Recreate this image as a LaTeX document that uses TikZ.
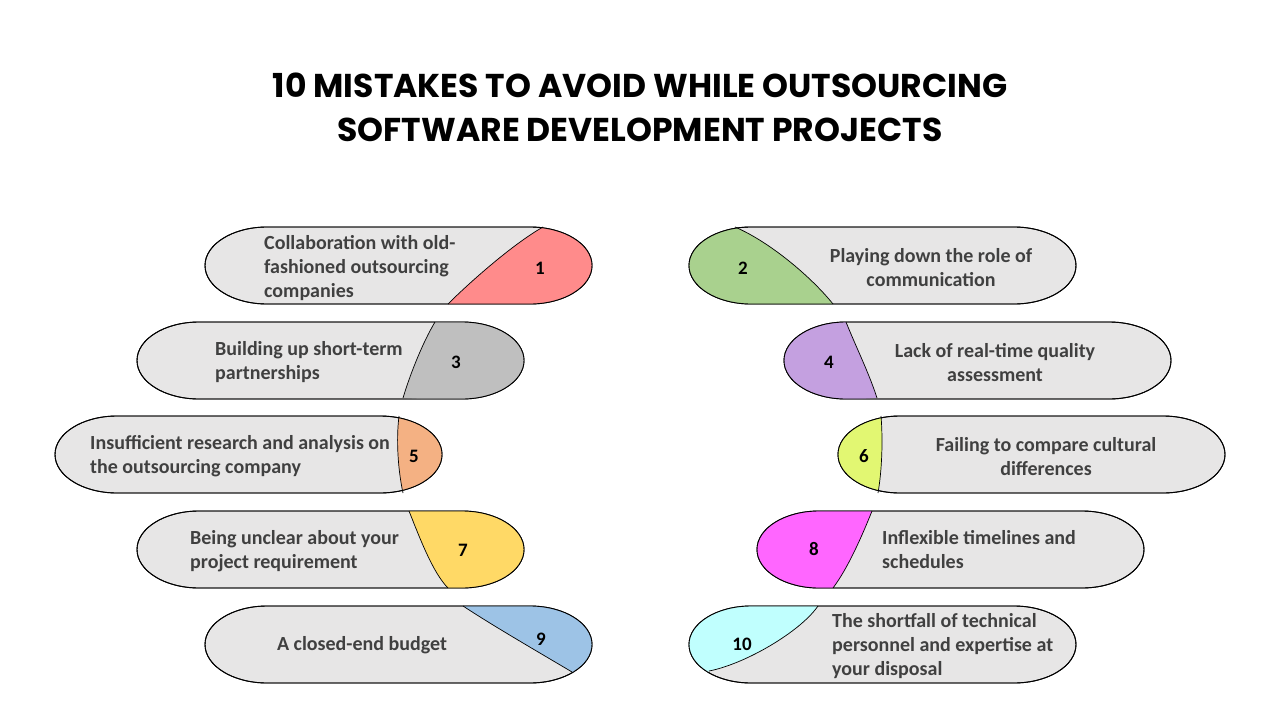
\documentclass[tikz,border=0pt]{standalone}
\usepackage{fontspec}
\setmainfont{Carlito}
\newfontfamily\titlefont{Poppins}
\usetikzlibrary{positioning}
\definecolor{pillgray}{HTML}{E7E6E6}
\definecolor{textgray}{HTML}{404040}
\definecolor{cone}{HTML}{FF8B8B}
\definecolor{ctwo}{HTML}{A9D18E}
\definecolor{cthree}{HTML}{BFBFBF}
\definecolor{cfour}{HTML}{C4A0E0}
\definecolor{cfive}{HTML}{F4B183}
\definecolor{csix}{HTML}{E2F772}
\definecolor{cseven}{HTML}{FFD966}
\definecolor{ceight}{HTML}{FF66FF}
\definecolor{cnine}{HTML}{9DC3E6}
\definecolor{cten}{HTML}{C0FFFE}

\begin{document}
\begin{tikzpicture}[x=1pt,y=-1pt,
  pill/.style={insert path={++(62,0) -- ++(263,0) arc[start angle=-90,end angle=90,x radius=62,y radius=38.5] -- ++(-263,0) arc[start angle=90,end angle=270,x radius=62,y radius=38.5] -- cycle}},
  pillbody/.style={fill=pillgray,draw=black,line width=0.9pt},
  rim/.style={draw=black,line width=0.9pt},
  cut/.style={draw=black,line width=0.7pt},
  label/.style={inner sep=0pt,text=textgray,font=\bfseries\fontsize{20}{24}\selectfont},
  num/.style={inner sep=0pt,text=black,font=\bfseries\fontsize{19}{22}\selectfont},
  heading/.style={inner sep=0pt,anchor=base,font=\titlefont\bfseries\fontsize{33}{44}\selectfont}]
\fill[white] (0,0) rectangle (1280,720);
\useasboundingbox (0,0) rectangle (1280,720);

\node(title1)[heading] at (640,97) {10 MISTAKES TO AVOID WHILE OUTSOURCING};
\node(title2)[heading] at (640,141) {SOFTWARE DEVELOPMENT PROJECTS};

% left column
\path[pillbody] (205,227) [pill];
\begin{scope} \clip (205,227) [pill];
\fill[cone] (543,227) .. controls (513,244) and (470,282) .. (448,304) -- (600,310) -- (600,220) -- cycle;
\end{scope}
\path[cut] (543,227) .. controls (513,244) and (470,282) .. (448,304);
\path[rim] (205,227) [pill];
\node(m1)[label,anchor=west,align=left] at (264,268) {Collaboration with old-\\fashioned outsourcing\\companies};
\node(n1)[num] at (540,268) {1};

\path[pillbody] (137,322) [pill];
\begin{scope} \clip (137,322) [pill];
\fill[cthree] (435,322) .. controls (423,342) and (410.5,373) .. (403,398) -- (530,405) -- (530,315) -- cycle;
\end{scope}
\path[cut] (435,322) .. controls (423,342) and (410.5,373) .. (403,398);
\path[rim] (137,322) [pill];
\node(m3)[label,anchor=west,align=left] at (215,362.5) {Building up short-term\\partnerships};
\node(n3)[num] at (456,362) {3};

\path[pillbody] (55,416) [pill];
\begin{scope} \clip (55,416) [pill];
\fill[cfive] (399,416) .. controls (396,440) and (398,470) .. (403,493) -- (450,500) -- (450,410) -- cycle;
\end{scope}
\path[cut] (399,416) .. controls (396,440) and (398,470) .. (403,493);
\path[rim] (55,416) [pill];
\node(m5)[label,anchor=west,align=left] at (90,456.5) {Insufficient research and analysis on\\the outsourcing company};
\node(n5)[num] at (414,456) {5};

\path[pillbody] (137,511) [pill];
\begin{scope} \clip (137,511) [pill];
\fill[cseven] (409,511) .. controls (419,536) and (432.6,572.6) .. (448,588) -- (530,595) -- (530,505) -- cycle;
\end{scope}
\path[cut] (409,511) .. controls (419,536) and (432.6,572.6) .. (448,588);
\path[rim] (137,511) [pill];
\node(m7)[label,anchor=west,align=left] at (190,551.5) {Being unclear about your\\project requirement};
\node(n7)[num] at (463,550) {7};

\path[pillbody] (205,606) [pill];
\begin{scope} \clip (205,606) [pill];
\fill[cnine] (463,606) .. controls (495,627) and (535,650) .. (572,672) -- (600,690) -- (600,600) -- cycle;
\end{scope}
\path[cut] (463,606) .. controls (495,627) and (535,650) .. (572,672);
\path[rim] (205,606) [pill];
\node(m9)[label] at (362,645) {A closed-end budget};
\node(n9)[num] at (541,639) {9};

% right column
\path[pillbody] (689,227) [pill];
\begin{scope} \clip (689,227) [pill];
\fill[ctwo] (735,227) .. controls (772,243) and (813,279) .. (833,304) -- (680,310) -- (680,220) -- cycle;
\end{scope}
\path[cut] (735,227) .. controls (772,243) and (813,279) .. (833,304);
\path[rim] (689,227) [pill];
\node(m2)[label,align=center] at (931,268) {Playing down the role of\\communication};
\node(n2)[num] at (743,268) {2};

\path[pillbody] (784,322) [pill];
\begin{scope} \clip (784,322) [pill];
\fill[cfour] (846,322) .. controls (856,347) and (869,373) .. (877,398) -- (775,405) -- (775,315) -- cycle;
\end{scope}
\path[cut] (846,322) .. controls (856,347) and (869,373) .. (877,398);
\path[rim] (784,322) [pill];
\node(m4)[label,align=center] at (995,362.5) {Lack of real-time quality\\assessment};
\node(n4)[num] at (829,362) {4};

\path[pillbody] (838,416) [pill];
\begin{scope} \clip (838,416) [pill];
\fill[csix] (881,416) .. controls (883,440) and (882,470) .. (878,493) -- (830,500) -- (830,410) -- cycle;
\end{scope}
\path[cut] (881,416) .. controls (883,440) and (882,470) .. (878,493);
\path[rim] (838,416) [pill];
\node(m6)[label,align=center] at (1046,456.5) {Failing to compare cultural\\differences};
\node(n6)[num] at (864,456) {6};

\path[pillbody] (757,511) [pill];
\begin{scope} \clip (757,511) [pill];
\fill[ceight] (872,511) .. controls (862,536) and (848,568) .. (833,588) -- (750,595) -- (750,505) -- cycle;
\end{scope}
\path[cut] (872,511) .. controls (862,536) and (848,568) .. (833,588);
\path[rim] (757,511) [pill];
\node(m8)[label,anchor=west,align=left] at (882,550) {Inflexible timelines and\\schedules};
\node(n8)[num] at (814,549) {8};

\path[pillbody] (689,606) [pill];
\begin{scope} \clip (689,606) [pill];
\fill[cten] (818,606) .. controls (800,632) and (745,664) .. (709,671) -- (685,690) -- (680,600) -- cycle;
\end{scope}
\path[cut] (818,606) .. controls (800,632) and (745,664) .. (709,671);
\path[rim] (689,606) [pill];
\node(m10)[label,anchor=west,align=left] at (832,646) {The shortfall of technical\\personnel and expertise at\\your disposal};
\node(n10)[num] at (742,644) {10};
\end{tikzpicture}
\end{document}
